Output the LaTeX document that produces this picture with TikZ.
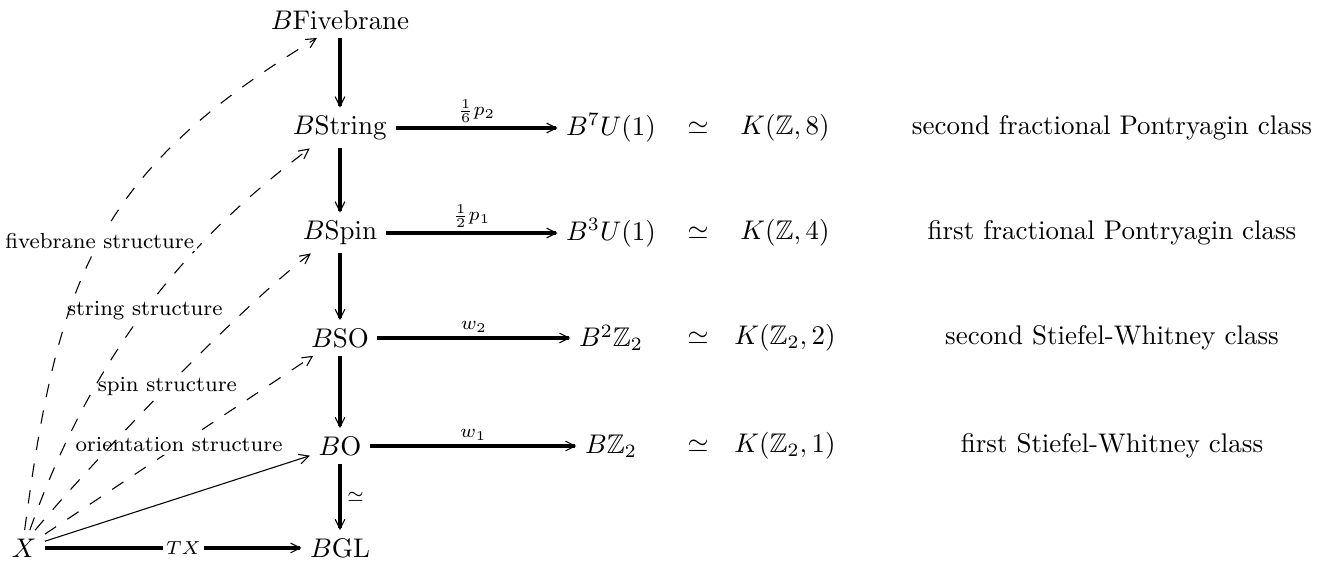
\documentclass[tikz,border=0pt]{standalone}
\usepackage{amssymb}
\usetikzlibrary{arrows.meta}
\begin{document}
\begin{tikzpicture}[x=0.371pt,y=0.371pt,
  obj/.style={inner sep=3pt},
  tipv/.style={-{Straight Barb[length=3.6pt,width=3.6pt,line width=0.4pt]}},
  heavy/.style={tipv, line width=1.3pt},
  thinarr/.style={tipv, line width=0.4pt},
  dasharr/.style={tipv, line width=0.4pt, dash pattern=on 5pt off 5pt},
  lblf/.style={font=\footnotesize, fill=white, inner sep=1pt},
  lbla/.style={above, inner sep=1.5pt}]
\useasboundingbox (0,0) rectangle (1325,563);
% left column
\node[obj] (fb)   at (340,543) {$B\mathrm{Fivebrane}$};
\node[obj] (str)  at (340,435) {$B\mathrm{String}$};
\node[obj] (spin) at (340,330) {$B\mathrm{Spin}$};
\node[obj] (so)   at (340,225) {$B\mathrm{SO}$};
\node[obj] (bo)   at (340,117) {$B\mathrm{O}$};
\node[obj] (bgl)  at (340,15)  {$B\mathrm{GL}$};
\node[obj] (X)    at (24,15)   {$X$};
% right column
\node[obj] (b7) at (611,435) {$B^7U(1)$};
\node[obj] (b3) at (611,330) {$B^3U(1)$};
\node[obj] (b2) at (611,225) {$B^2\mathbb{Z}_2$};
\node[obj] (b1) at (611,117) {$B\mathbb{Z}_2$};
\node (s7) at (698,435) {$\simeq$};
\node (s3) at (698,330) {$\simeq$};
\node (s2) at (698,225) {$\simeq$};
\node (s1) at (698,117) {$\simeq$};
\node (k7) at (785,435) {$K(\mathbb{Z},8)$};
\node (k3) at (785,330) {$K(\mathbb{Z},4)$};
\node (k2) at (785,225) {$K(\mathbb{Z}_2,2)$};
\node (k1) at (785,117) {$K(\mathbb{Z}_2,1)$};
\node (t7) at (1112,435) {second fractional Pontryagin class};
\node (t3) at (1112,330) {first fractional Pontryagin class};
\node (t2) at (1112,225) {second Stiefel-Whitney class};
\node (t1) at (1112,117) {first Stiefel-Whitney class};
% vertical arrows
\draw[heavy] (fb) -- (str);
\draw[heavy] (str) -- (spin);
\draw[heavy] (spin) -- (so);
\draw[heavy] (so) -- (bo);
\draw[heavy] (bo) -- node[right, inner sep=2pt] {$\scriptstyle\simeq$} (bgl);
% horizontal arrows
\draw[heavy] (str) -- node[lbla] {$\scriptstyle\frac{1}{6}p_2$} (b7);
\draw[heavy] (spin) -- node[lbla] {$\scriptstyle\frac{1}{2}p_1$} (b3);
\draw[heavy] (so) -- node[lbla] {$\scriptstyle w_2$} (b2);
\draw[heavy] (bo) -- node[lbla] {$\scriptstyle w_1$} (b1);
\draw[heavy] (X) -- node[pos=0.54, fill=white, inner sep=1pt] {$\scriptstyle TX$} (bgl);
% structures
\draw[dasharr] (X) -- node[lblf] {orientation structure} (so);
\draw[dasharr] (X.58) .. controls (93,102) and (238,254) .. (spin.215)
  node[pos=0.5, lblf] {spin structure};
\draw[dasharr] (X.72) .. controls (91,205) and (182,319) .. (str.214)
  node[pos=0.5, lblf] {string structure};
\draw[dasharr] (X.88) .. controls (58,283) and (94,390) .. (fb.218)
  node[pos=0.5, lblf] {fivebrane structure};
\draw[thinarr] (X) -- (bo);
\end{tikzpicture}
\end{document}
